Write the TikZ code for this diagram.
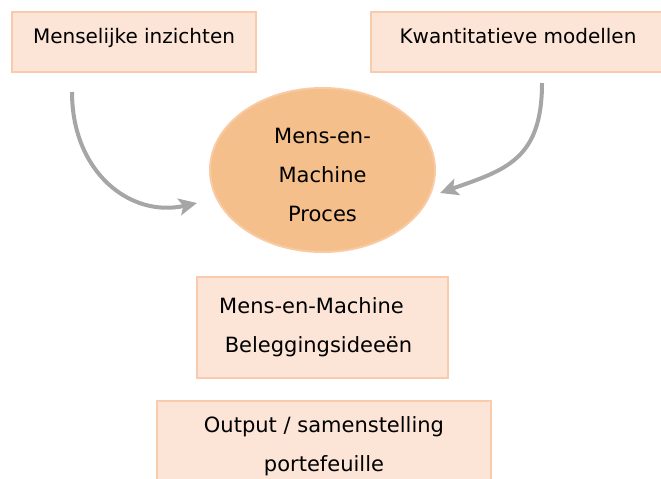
\documentclass[tikz,border=0pt]{standalone}
\usepackage{fontspec}
\setmainfont{DejaVu Sans}
\usetikzlibrary{shapes.geometric, arrows.meta}
\definecolor{boxfill}{HTML}{FCE4D6}
\definecolor{boxline}{HTML}{F8CBAD}
\definecolor{procfill}{HTML}{F4BF8A}
\definecolor{procline}{HTML}{F8CBA4}
\definecolor{pijlgrijs}{HTML}{A6A6A6}

\begin{document}
\begin{tikzpicture}[x=1bp, y=-1bp,
    invoer/.style={draw=boxline, fill=boxfill, line width=2bp, inner sep=0pt,
        text height=32bp, text depth=28bp, font=\fontsize{20bp}{24bp}\selectfont},
    uitvoer/.style={draw=boxline, fill=boxfill, line width=2bp, align=center,
        font=\fontsize{21bp}{39bp}\selectfont},
    proces/.style={ellipse, draw=procline, fill=procfill, line width=2bp, inner sep=0pt,
        minimum width=225bp, minimum height=164bp, align=center,
        font=\fontsize{21bp}{39bp}\selectfont},
    pijl/.style={-{Stealth[length=18bp, width=17bp, inset=4bp]}, line width=4bp, color=pijlgrijs}]
    \useasboundingbox (0,0) rectangle (661,479);

    % Inputs
    \node [invoer, minimum width=244bp] (mens) at (134,42) {Menselijke inzichten};
    \node [invoer, minimum width=294bp] (kwant) at (518,42) {Kwantitatieve modellen};

    % Process
    \node [proces] (proces) at (322.5,170) {\rule{0pt}{26bp}Mens-en-\\Machine\\Proces};

    % Outputs
    \node [uitvoer, minimum width=251bp, minimum height=101bp] (ideeen) at (322.5,327.5)
        {Mens-en-Machine\hspace*{22bp}\\Beleggingsideeën\hspace*{8bp}};
    \node [uitvoer, minimum width=334bp, minimum height=90bp] (output) at (324,446)
        {Output / samenstelling\\portefeuille};

    % Arrows
    \coordinate (mens-uit) at (72,92);
    \coordinate (mens-in) at (197,203);
    \coordinate (kwant-uit) at (542,83);
    \coordinate (kwant-in) at (440,193);
    \draw [pijl] (mens-uit) .. controls (72,172) and (130,218) .. (mens-in);
    \draw [pijl] (kwant-uit) .. controls (542,160) and (505,170) .. (kwant-in);
\end{tikzpicture}
\end{document}
